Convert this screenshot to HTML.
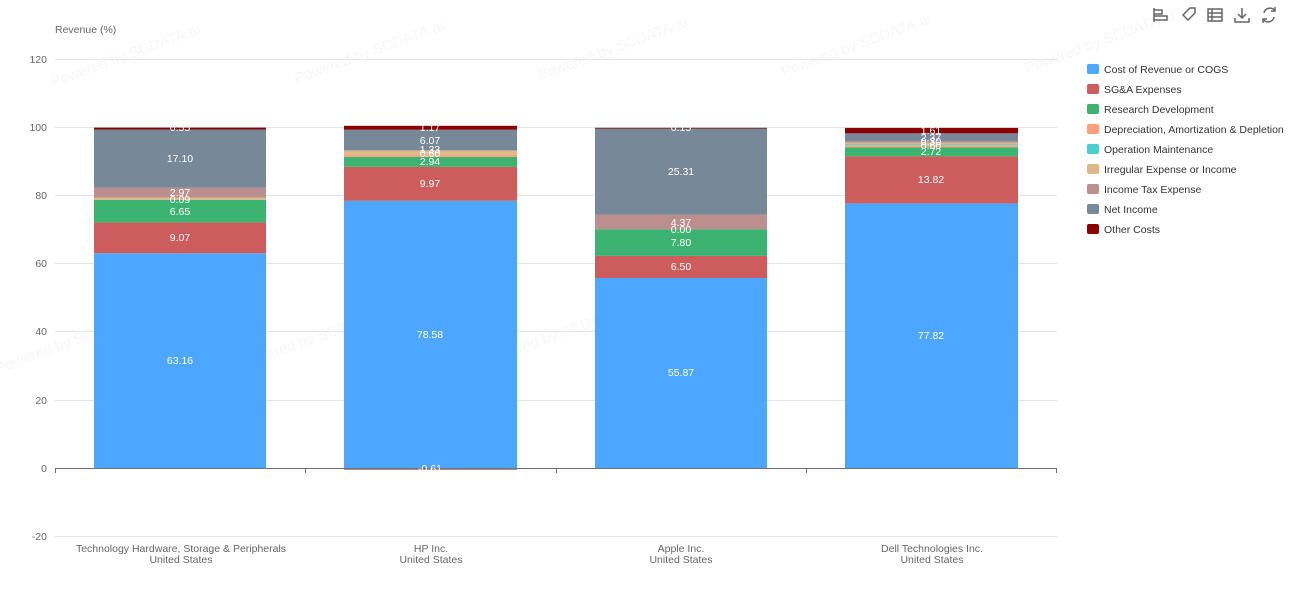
<!DOCTYPE html>
<html><head><meta charset="utf-8"><style>
html,body{margin:0;background:#fff;width:1314px;height:605px;overflow:hidden;}
svg{display:block;font-family:"Liberation Sans","DejaVu Sans",sans-serif;}
</style></head><body>
<svg width="1314" height="605" viewBox="0 0 1314 605" overflow="hidden">
<g font-size="15" fill="#000" fill-opacity="0.035" transform="rotate(-20)">
<text x="20" y="100">Powered by SCDATA.ai</text>
<text x="250" y="180">Powered by SCDATA.ai</text>
<text x="480" y="260">Powered by SCDATA.ai</text>
<text x="710" y="340">Powered by SCDATA.ai</text>
<text x="940" y="420">Powered by SCDATA.ai</text>
<text x="-130" y="350">Powered by SCDATA.ai</text>
<text x="100" y="430">Powered by SCDATA.ai</text>
<text x="330" y="510">Powered by SCDATA.ai</text>
</g>
<text x="55" y="33" font-size="10.5" fill="#666">Revenue (%)</text>
<g stroke="#e0e6f1" stroke-width="1">
<line x1="55" y1="59.5" x2="1057" y2="59.5"/>
<line x1="55" y1="127.5" x2="1057" y2="127.5"/>
<line x1="55" y1="195.5" x2="1057" y2="195.5"/>
<line x1="55" y1="263.5" x2="1057" y2="263.5"/>
<line x1="55" y1="331.5" x2="1057" y2="331.5"/>
<line x1="55" y1="400.5" x2="1057" y2="400.5"/>
<line x1="55" y1="536.5" x2="1057" y2="536.5"/>
</g>
<g font-size="10.5" fill="#666" text-anchor="end">
<text x="47" y="63">120</text><text x="47" y="131">100</text><text x="47" y="199">80</text>
<text x="47" y="267">60</text><text x="47" y="335">40</text><text x="47" y="404">20</text>
<text x="47" y="472">0</text><text x="47" y="540">-20</text>
</g>
<rect x="94" y="253.3" width="172" height="214.7" fill="#4da6ff"/>
<rect x="94" y="222.4" width="172" height="30.9" fill="#cd5c5c"/>
<rect x="94" y="199.8" width="172" height="22.6" fill="#3cb371"/>
<rect x="94" y="197.7" width="172" height="2.1" fill="#deb887"/>
<rect x="94" y="187.6" width="172" height="10.1" fill="#bc8f8f"/>
<rect x="94" y="129.5" width="172" height="58.1" fill="#778899"/>
<rect x="94" y="127.6" width="172" height="1.9" fill="#8b0000"/>
<rect x="344" y="200.8" width="173" height="267.2" fill="#4da6ff"/>
<rect x="344" y="166.9" width="173" height="33.9" fill="#cd5c5c"/>
<rect x="344" y="156.9" width="173" height="10" fill="#3cb371"/>
<rect x="344" y="154.9" width="173" height="2" fill="#ffa07a"/>
<rect x="344" y="150.4" width="173" height="4.5" fill="#deb887"/>
<rect x="344" y="129.7" width="173" height="20.7" fill="#778899"/>
<rect x="344" y="125.8" width="173" height="3.9" fill="#8b0000"/>
<rect x="344" y="468" width="173" height="2.1" fill="#bc8f8f"/>
<rect x="595" y="278" width="172" height="190" fill="#4da6ff"/>
<rect x="595" y="255.9" width="172" height="22.1" fill="#cd5c5c"/>
<rect x="595" y="229.4" width="172" height="26.5" fill="#3cb371"/>
<rect x="595" y="214.6" width="172" height="14.8" fill="#bc8f8f"/>
<rect x="595" y="128.5" width="172" height="86.1" fill="#778899"/>
<rect x="595" y="127.8" width="172" height="0.7" fill="#8b0000"/>
<rect x="845" y="203.4" width="173" height="264.6" fill="#4da6ff"/>
<rect x="845" y="156.4" width="173" height="47" fill="#cd5c5c"/>
<rect x="845" y="147.2" width="173" height="9.2" fill="#3cb371"/>
<rect x="845" y="145.1" width="173" height="2.1" fill="#ffa07a"/>
<rect x="845" y="144.1" width="173" height="1" fill="#48d1cc"/>
<rect x="845" y="142.8" width="173" height="1.3" fill="#deb887"/>
<rect x="845" y="141.4" width="173" height="1.4" fill="#bc8f8f"/>
<rect x="845" y="133.3" width="173" height="8.1" fill="#778899"/>
<rect x="845" y="127.9" width="173" height="5.4" fill="#8b0000"/>
<line x1="55" y1="468.5" x2="1057" y2="468.5" stroke="#6e7079"/>
<g stroke="#6e7079"><line x1="55.5" y1="468" x2="55.5" y2="473"/><line x1="305.5" y1="468" x2="305.5" y2="473"/><line x1="556.5" y1="468" x2="556.5" y2="473"/><line x1="806.5" y1="468" x2="806.5" y2="473"/><line x1="1056.5" y1="468" x2="1056.5" y2="473"/></g>
<g font-size="10.5" fill="#fff" text-anchor="middle">
<text x="180" y="364">63.16</text><text x="180" y="241">9.07</text><text x="180" y="215">6.65</text>
<text x="180" y="203">0.09</text><text x="180" y="196">2.97</text><text x="180" y="162">17.10</text><text x="180" y="131">0.55</text>
<text x="430" y="338">78.58</text><text x="430" y="187">9.97</text><text x="430" y="165">2.94</text>
<text x="430" y="157">0.60</text><text x="430" y="153">1.33</text><text x="430" y="144">6.07</text><text x="430" y="131">1.17</text>
<text x="430" y="472">-0.61</text>
<text x="681" y="376">55.87</text><text x="681" y="270">6.50</text><text x="681" y="246">7.80</text>
<text x="681" y="233">0.00</text><text x="681" y="226">4.37</text><text x="681" y="175">25.31</text><text x="681" y="131">0.15</text>
<text x="931" y="339">77.82</text><text x="931" y="183">13.82</text><text x="931" y="155">2.72</text>
<text x="931" y="149">0.60</text><text x="931" y="145">0.30</text><text x="931" y="141">2.37</text><text x="931" y="134">1.61</text>
</g>
<g font-size="10.5" fill="#666" text-anchor="middle">
<text x="181" y="552">Technology Hardware, Storage &amp; Peripherals</text><text x="181" y="563">United States</text>
<text x="431" y="552">HP Inc.</text><text x="431" y="563">United States</text>
<text x="681" y="552">Apple Inc.</text><text x="681" y="563">United States</text>
<text x="932" y="552">Dell Technologies Inc.</text><text x="932" y="563">United States</text>
</g>
<g font-size="10.5" fill="#333">
<rect x="1087" y="64" width="12" height="10" rx="2" fill="#4da6ff"/><text x="1104" y="73">Cost of Revenue or COGS</text>
<rect x="1087" y="84" width="12" height="10" rx="2" fill="#cd5c5c"/><text x="1104" y="93">SG&amp;A Expenses</text>
<rect x="1087" y="104" width="12" height="10" rx="2" fill="#3cb371"/><text x="1104" y="113">Research Development</text>
<rect x="1087" y="124" width="12" height="10" rx="2" fill="#ffa07a"/><text x="1104" y="133">Depreciation, Amortization &amp; Depletion</text>
<rect x="1087" y="144" width="12" height="10" rx="2" fill="#48d1cc"/><text x="1104" y="153">Operation Maintenance</text>
<rect x="1087" y="164" width="12" height="10" rx="2" fill="#deb887"/><text x="1104" y="173">Irregular Expense or Income</text>
<rect x="1087" y="184" width="12" height="10" rx="2" fill="#bc8f8f"/><text x="1104" y="193">Income Tax Expense</text>
<rect x="1087" y="204" width="12" height="10" rx="2" fill="#778899"/><text x="1104" y="213">Net Income</text>
<rect x="1087" y="224" width="12" height="10" rx="2" fill="#8b0000"/><text x="1104" y="233">Other Costs</text>
</g>
<g fill="none" stroke="#666" stroke-width="1.5">
<path d="M1154 8v14M1154 10h8v4h-8M1154 16h13v4h-13"/>
<path d="M1183 15l7-7h5v5l-7 7z"/>
<rect x="1208" y="9" width="14" height="12"/><path d="M1208 13h14M1208 17h14M1212 9v12"/>
<path d="M1242 8v10M1238 14l4 4 4-4M1235 18v4h14v-4"/>
<path d="M1275 11a6 6 0 0 0-11 2M1263 19a6 6 0 0 0 11-2M1275 7v4h-4M1263 23v-4h4"/>
</g>
</svg>
</body></html>
